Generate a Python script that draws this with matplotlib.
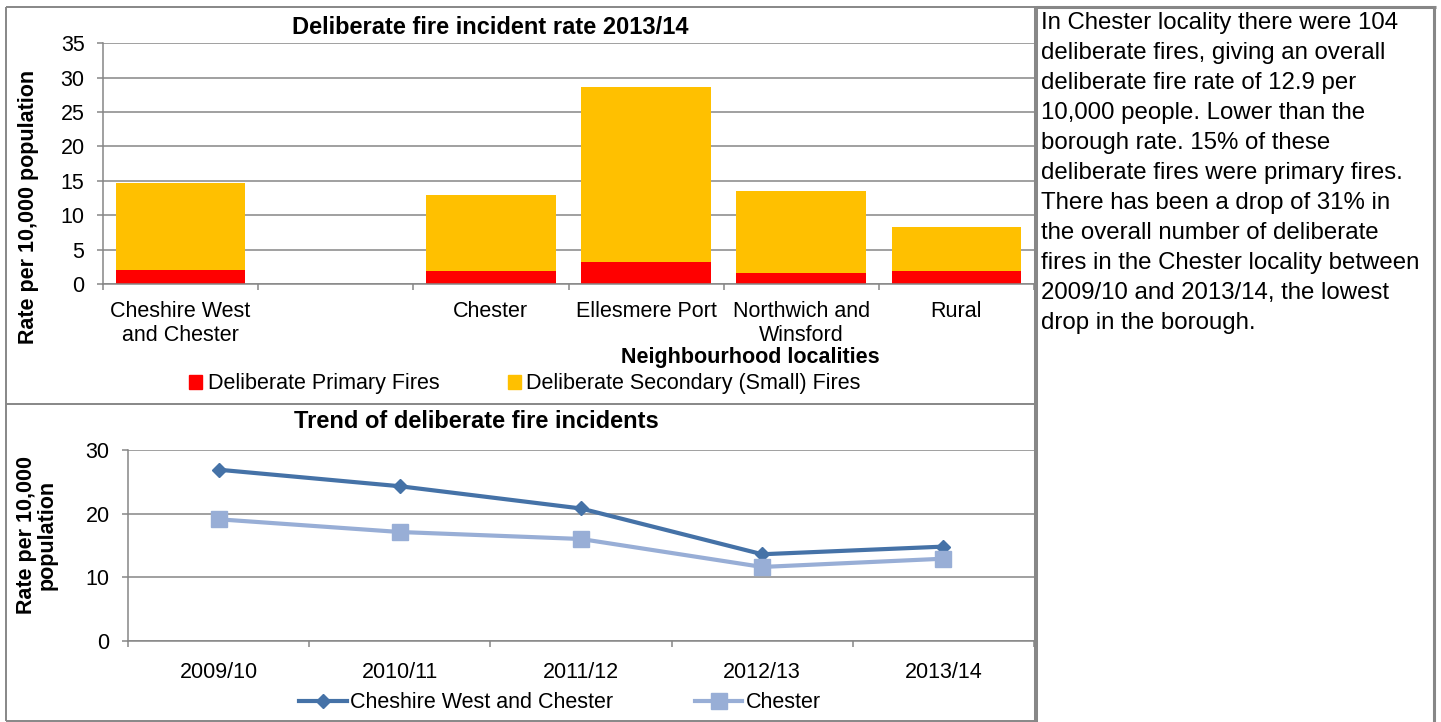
import matplotlib

matplotlib.use("Agg")
import matplotlib.pyplot as plt
from matplotlib.lines import Line2D
from matplotlib.patches import Patch

W, H = 1441, 722
plt.rcParams["font.family"] = ["Liberation Sans", "DejaVu Sans"]

# Stacked rate per 10,000 population, 2013/14 (blank slot keeps the gap after the borough bar)
localities = ["Cheshire West\nand Chester", "", "Chester", "Ellesmere Port",
              "Northwich and\nWinsford", "Rural"]
primary_rate = [2.1, float("nan"), 1.9, 3.2, 1.6, 1.9]
secondary_rate = [12.6, float("nan"), 11.0, 25.4, 12.0, 6.4]

# Trend of deliberate fire incidents
years = ["2009/10", "2010/11", "2011/12", "2012/13", "2013/14"]
cwac_trend = [26.9, 24.3, 20.8, 13.6, 14.8]
chester_trend = [19.1, 17.1, 16.0, 11.6, 12.9]

summary_lines = [
    "In Chester locality there were 104",
    "deliberate fires, giving an overall",
    "deliberate fire rate of 12.9 per",
    "10,000 people. Lower than the",
    "borough rate. 15% of these",
    "deliberate fires were primary fires.",
    "There has been a drop of 31% in",
    "the overall number of deliberate",
    "fires in the Chester locality between",
    "2009/10 and 2013/14, the lowest",
    "drop in the borough.",
]

GRID = "#868686"
BORDER = "#878787"
RED = "#FF0000"
AMBER = "#FFC000"
DARK_BLUE = "#4572A7"
LIGHT_BLUE = "#98AED6"
FS = 15.5


def fx(px):
    return px / W


def fy(py):
    return 1 - py / H


def px_axes(fig, left, top, right, bottom):
    return fig.add_axes([fx(left), fy(bottom), (right - left) / W, (bottom - top) / H])


def style_axes(ax):
    ax.set_axisbelow(True)
    ax.yaxis.grid(True, color=GRID, linewidth=1.1)
    for side in ("top", "right"):
        ax.spines[side].set_visible(False)
    for side in ("left", "bottom"):
        ax.spines[side].set_color(GRID)
        ax.spines[side].set_linewidth(1.1)
    ax.tick_params(axis="y", length=4.3, width=1.1, color=GRID, labelsize=FS, pad=9)
    ax.tick_params(axis="x", which="major", length=0, labelsize=FS)
    ax.tick_params(axis="x", which="minor", length=4.3, width=1.1, color=GRID)


fig = plt.figure(figsize=(W / 100, H / 100), dpi=100)

# --- stacked bar chart ---
ax1 = px_axes(fig, 103, 43, 1034, 284.5)
pos = list(range(len(localities)))
ax1.bar(pos, primary_rate, width=0.835, color=RED, zorder=2)
ax1.bar(pos, secondary_rate, bottom=primary_rate, width=0.835, color=AMBER, zorder=2)
ax1.set_xlim(-0.5, len(localities) - 0.5)
ax1.set_ylim(0, 35)
ax1.set_yticks(range(0, 36, 5))
ax1.set_xticks(pos)
ax1.set_xticklabels(localities, linespacing=1.15)
ax1.set_xticks([p - 0.5 for p in pos] + [len(pos) - 0.5], minor=True)
style_axes(ax1)
ax1.tick_params(axis="x", which="major", pad=12)

fig.text(fx(490), fy(27), "Deliberate fire incident rate 2013/14", ha="center", va="center",
         fontsize=17, fontweight="bold")
fig.text(fx(29), fy(207), "Rate per 10,000 population", rotation=90, ha="center", va="center",
         fontsize=FS, fontweight="bold")
fig.text(fx(750), fy(357), "Neighbourhood localities", ha="center", va="center",
         fontsize=FS, fontweight="bold")
fig.legend(
    handles=[Patch(color=RED, label="Deliberate Primary Fires"),
             Patch(color=AMBER, label="Deliberate Secondary (Small) Fires")],
    loc="center", bbox_to_anchor=(fx(525), fy(384)), ncol=2, frameon=False,
    handlelength=0.6, handleheight=0.6, handletextpad=0.25, columnspacing=3.2,
    fontsize=FS, borderpad=0,
)

# --- trend line chart ---
ax2 = px_axes(fig, 128, 450, 1034, 640.7)
xs = list(range(len(years)))
ax2.plot(xs, cwac_trend, color=DARK_BLUE, lw=3, marker="D", ms=7.5, zorder=3,
         label="Cheshire West and Chester")
ax2.plot(xs, chester_trend, color=LIGHT_BLUE, lw=3, marker="s", ms=11.5, zorder=3,
         label="Chester")
ax2.set_xlim(-0.5, len(years) - 0.5)
ax2.set_ylim(0, 30)
ax2.set_yticks([0, 10, 20, 30])
ax2.set_xticks(xs)
ax2.set_xticklabels(years)
ax2.set_xticks([x - 0.5 for x in xs] + [len(xs) - 0.5], minor=True)
style_axes(ax2)
ax2.tick_params(axis="x", which="major", pad=15)

fig.text(fx(476), fy(422), "Trend of deliberate fire incidents", ha="center", va="center",
         fontsize=17, fontweight="bold")
fig.text(fx(37), fy(535), "Rate per 10,000\npopulation", rotation=90, ha="center", va="center",
         fontsize=FS, fontweight="bold", linespacing=1.0)
fig.legend(
    handles=ax2.get_lines(), loc="center", bbox_to_anchor=(fx(560), fy(703)), ncol=2,
    frameon=False, handlelength=2.2, handletextpad=0.15, columnspacing=3.8,
    fontsize=FS, borderpad=0,
)

# --- table borders around the panels ---
def border(x0, y0, x1, y1, lw):
    fig.add_artist(Line2D([fx(x0), fx(x1)], [fy(y0), fy(y1)], color=BORDER, lw=lw,
                          solid_capstyle="butt"))


border(6, 7, 1036, 7, 1.4)
border(6, 7, 6, 721, 1.4)
border(6, 404, 1036, 404, 1.4)
border(6, 721, 1036, 721, 1.4)
border(1036, 5.5, 1036, 722, 2.9)
border(1036, 7, 1435.5, 7, 2.2)
border(1434, 6, 1434, 722, 2.2)

# --- commentary text ---
for i, line in enumerate(summary_lines):
    fig.text(fx(1041), fy(29 + 30 * i), line, ha="left", va="baseline", fontsize=17.3)

fig.savefig("out.png", dpi=100)
